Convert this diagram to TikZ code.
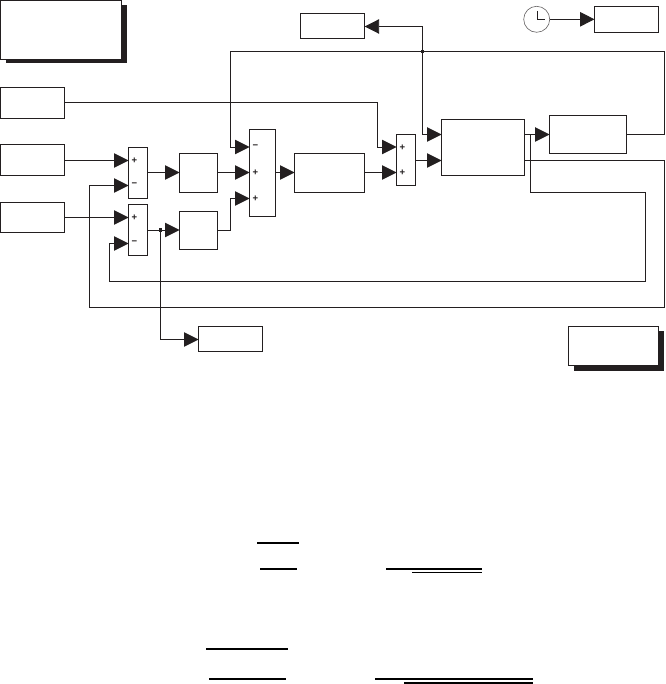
\documentclass[tikz,border=0pt]{standalone}
\usepackage{fontspec}
\setmainfont{Liberation Sans}
\usetikzlibrary{arrows.meta}
\definecolor{ink}{HTML}{231F20}
\tikzset{
  box/.style={draw=ink,line width=0.95pt,fill=white,inner sep=0pt,outer sep=0pt,anchor=north west},
  wire/.style={draw=ink,line width=0.95pt},
  arr/.style={wire,-{Triangle[length=14.5pt,width=14.5pt,color=ink]}},
  shadow/.style={fill=ink,draw=none},
  dotj/.style={fill=ink,draw=none,minimum size=3.5pt,inner sep=0pt,outer sep=0pt},
  sign/.style={inner sep=0pt,font=\fontsize{9.5}{9.5}\selectfont\bfseries,text=ink},
  bar/.style={draw=black,line width=1.9pt},
  thinbar/.style={draw=black,line width=1.1pt},
}
\newcommand{\mybox}[5]{\node[box,minimum width={(#4-#2)*1pt},minimum height={(#5-#3)*1pt}] (#1) at (#2,#3) {};}
\begin{document}
\begin{tikzpicture}[x=1pt,y=-1pt]
\useasboundingbox (0,0) rectangle (665,684);
% shadowed boxes
\fill[shadow] (5.5,5.5) rectangle (127,63.5);
\mybox{note1}{0.5}{0.5}{121.5}{59}
\fill[shadow] (574,331) rectangle (663.5,370.5);
\mybox{note2}{568.5}{326.5}{658.7}{365.5}
% blocks
\mybox{disp}{300.5}{13.5}{364.7}{38.5}
\mybox{inA}{0.5}{87.5}{64.5}{118.5}
\mybox{inB}{0.5}{144.5}{64.5}{175.5}
\mybox{inC}{0.5}{202.5}{64.5}{232.5}
\mybox{sumA}{128.5}{147.5}{147.5}{198.5}
\mybox{sumB}{128.5}{204.5}{147.5}{255.5}
\mybox{gainA}{179.5}{153.5}{217.5}{192.5}
\mybox{gainB}{179.5}{211.5}{217.5}{249.5}
\mybox{sumC}{249.5}{129.5}{275.5}{216.5}
\mybox{gainC}{294.5}{153.5}{364.5}{192.5}
\mybox{sumD}{396.5}{134.5}{415.5}{185.5}
\mybox{plant}{441.5}{119.5}{524.5}{175.5}
\mybox{gainD}{549.5}{115.5}{626.5}{153.5}
\mybox{timeout}{594.5}{6.5}{658.7}{32.5}
\mybox{scope}{198.5}{326.5}{262.5}{351.5}
% clock
\node[draw=ink!70,line width=0.6pt,circle,minimum size=26pt,inner sep=0pt,outer sep=0pt] (clock) at (536.7,19.3) {};
\draw[wire] (537,11) -- (537,19.5) -- (545,19.5);
% ports
\coordinate (sumAa) at (128.5,160.5);
\coordinate (sumAb) at (128.5,185.5);
\coordinate (sumBa) at (128.5,217.5);
\coordinate (sumBb) at (128.5,243.5);
\coordinate (sumCa) at (249.5,147);
\coordinate (sumCb) at (249.5,172.5);
\coordinate (sumCc) at (249.5,198.5);
\coordinate (sumDa) at (396.5,147);
\coordinate (sumDb) at (396.5,172.5);
\coordinate (plantA) at (441.5,134.5);
\coordinate (plantB) at (441.5,160.5);
\coordinate (plantOutA) at (524.5,134.5);
\coordinate (plantOutB) at (524.5,160.5);
\coordinate (sumDout) at (415.5,160.5);
\coordinate (gainAin) at (179.5,172.5);
\coordinate (gainBin) at (179.5,230);
\coordinate (gainAout) at (217.5,172.5);
\coordinate (gainBout) at (217.5,230);
\coordinate (sumAout) at (147.5,172.5);
\coordinate (sumBout) at (147.5,230);
\coordinate (gainCin) at (294.5,172.5);
\coordinate (gainCout) at (364.5,172.5);
\coordinate (sumCout) at (275.5,172.5);
\coordinate (gainDin) at (549.5,134.5);
\coordinate (gainDout) at (626.5,134.5);
\coordinate (dispIn) at (364.7,26.5);
\coordinate (timeIn) at (594.5,19.3);
\coordinate (scopeIn) at (198.5,339.5);
\coordinate (inAout) at (64.5,102.5);
\coordinate (inBout) at (64.5,160.5);
\coordinate (inCout) at (64.5,217.5);
% junctions
\node[dotj] (jA) at (160.5,230) {};
\node[dotj] (jB) at (422.5,51.5) {};
\coordinate (jC) at (530.5,134.5);
% connectors
\draw[arr] (inAout) -- (377.3,102.5) -- (377.3,147) -- (sumDa);
\draw[arr] (inBout) -- (sumAa);
\draw[arr] (inCout) -- (sumBa);
\draw[arr] (sumAout) -- (gainAin);
\draw[arr] (sumBout) -- (gainBin);
\draw[arr] (jA.center) -- (160.5,339.5) -- (scopeIn);
\draw[arr] (gainAout) -- (sumCb);
\draw[arr] (gainBout) -- (230.5,230) -- (230.5,198.5) -- (sumCc);
\draw[arr] (sumCout) -- (gainCin);
\draw[arr] (gainCout) -- (sumDb);
\draw[arr] (sumDout) -- (plantB);
\draw[arr] (plantOutA) -- (gainDin);
\draw[arr] (gainDout) -- (664.5,134.5) -- (664.5,51.5) -- (230.5,51.5) -- (230.5,147) -- (sumCa);
\draw[arr] (jB.center) -- (422.5,26.5) -- (dispIn);
\draw[arr] (jB.center) -- (422.5,134.5) -- (plantA);
\draw[arr] (jC) -- (530.5,192.5) -- (645.5,192.5) -- (645.5,281.5) -- (109.5,281.5) -- (109.5,243.5) -- (sumBb);
\draw[arr] (plantOutB) -- (664.5,160.5) -- (664.5,307.5) -- (89.5,307.5) -- (89.5,185.5) -- (sumAb);
\draw[arr] (clock.east) -- (timeIn);
% signs
\node[sign] at (134.5,160.5) {+};
\node[sign] at (134.5,185) {−};
\node[sign] at (134.5,217.5) {+};
\node[sign] at (134.5,243) {−};
\node[sign] at (255.5,147) {−};
\node[sign] at (255.5,172.5) {+};
\node[sign] at (255.5,198.5) {+};
\node[sign] at (402.5,147.5) {+};
\node[sign] at (402.5,172.5) {+};
% fraction bars
\draw[bar] (257,542.7) -- (299,542.7);
\draw[bar] (260,569) -- (297,569);
\draw[bar] (386,569) -- (482,569);
\draw[thinbar] (412,572.5) -- (482,572.5);
\draw[bar] (206,648.7) -- (288,648.7);
\draw[bar] (209,679) -- (286,679);
\draw[bar] (375,679) -- (533,679);
\draw[bar] (404,683) -- (533,683);
\end{tikzpicture}
\end{document}
